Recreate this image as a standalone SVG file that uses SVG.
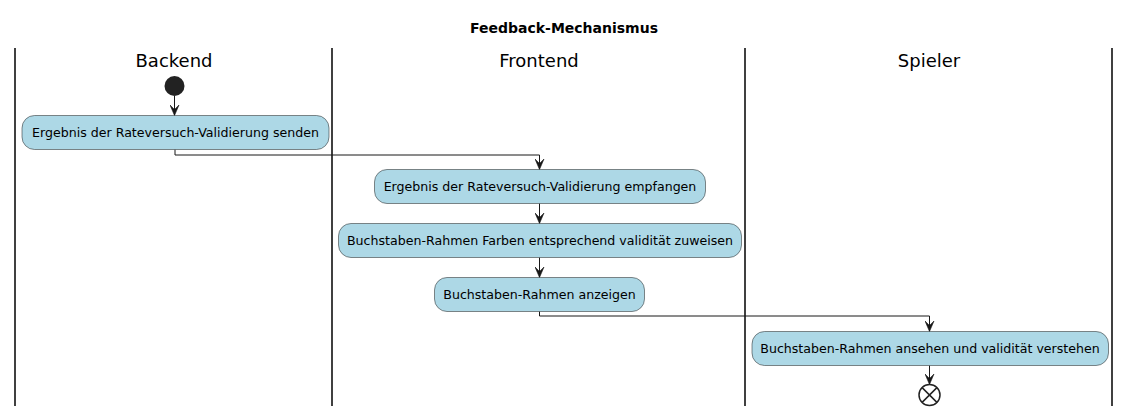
<svg xmlns="http://www.w3.org/2000/svg" width="1131" height="416" viewBox="0 0 1131 416">
<defs>
<style>
.lane{stroke:#000;stroke-width:1.5;fill:none}
.act{fill:#ADD8E6;stroke:#181818;stroke-width:0.5}
.t{font-family:"DejaVu Sans",sans-serif;font-size:12.6px;fill:#000;text-anchor:middle}
.h{font-family:"DejaVu Sans",sans-serif;font-size:18px;fill:#000;text-anchor:middle}
.title{font-family:"DejaVu Sans",sans-serif;font-size:14px;font-weight:bold;fill:#000;text-anchor:middle}
.c{stroke:#181818;stroke-width:1;fill:none;marker-end:url(#ah)}
</style>
<marker id="ah" viewBox="0 0 11 10" refX="11" refY="5" markerWidth="11" markerHeight="10" markerUnits="userSpaceOnUse" orient="auto">
<path d="M0.5,0.5 L11,5 L0.5,9.5 L5,5 Z" fill="#181818" stroke="#181818" stroke-width="0.6" stroke-linejoin="miter"/>
</marker>
</defs>
<rect width="1131" height="416" fill="#fff"/>
<text class="title" x="564" y="33">Feedback-Mechanismus</text>
<g id="lanes">
<line class="lane" x1="15" y1="48" x2="15" y2="406"/>
<line class="lane" x1="332" y1="48" x2="332" y2="406"/>
<line class="lane" x1="745" y1="48" x2="745" y2="406"/>
<line class="lane" x1="1112" y1="48" x2="1112" y2="406"/>
<text class="h" x="174" y="67">Backend</text>
<text class="h" x="539" y="67">Frontend</text>
<text class="h" x="929" y="67">Spieler</text>
</g>
<g id="connectors">
<line class="c" x1="174.5" y1="96" x2="174.5" y2="115.5"/>
<polyline class="c" points="175,149.5 175,155 539.5,155 539.5,169.5"/>
<line class="c" x1="539.5" y1="203.5" x2="539.5" y2="223.5"/>
<line class="c" x1="539.5" y1="257.5" x2="539.5" y2="277.5"/>
<polyline class="c" points="539.5,311.5 539.5,316 929.5,316 929.5,331.5"/>
<line class="c" x1="929.5" y1="365.5" x2="929.5" y2="384.5"/>
</g>
<g id="start"><circle cx="174.5" cy="86" r="10" fill="#222"/></g>
<g id="a1"><rect class="act" x="22" y="115.5" width="307" height="34" rx="12.5"/><text class="t" x="175.5" y="137">Ergebnis der Rateversuch-Validierung senden</text></g>
<g id="a2"><rect class="act" x="374.5" y="169.5" width="331" height="34" rx="12.5"/><text class="t" x="540" y="191">Ergebnis der Rateversuch-Validierung empfangen</text></g>
<g id="a3"><rect class="act" x="338.5" y="223.5" width="403" height="34" rx="12.5"/><text class="t" x="540" y="245">Buchstaben-Rahmen Farben entsprechend validität zuweisen</text></g>
<g id="a4"><rect class="act" x="434.5" y="277.5" width="210" height="34" rx="12.5"/><text class="t" x="539.5" y="299">Buchstaben-Rahmen anzeigen</text></g>
<g id="a5"><rect class="act" x="752" y="331.5" width="356.5" height="34" rx="12.5"/><text class="t" x="930" y="353">Buchstaben-Rahmen ansehen und validität verstehen</text></g>
<g id="end"><circle cx="929.5" cy="395" r="10.5" fill="#fff" stroke="#222" stroke-width="1.5"/><path d="M922.1,387.6 L936.9,402.4 M936.9,387.6 L922.1,402.4" stroke="#222" stroke-width="1.5"/></g>
</svg>
